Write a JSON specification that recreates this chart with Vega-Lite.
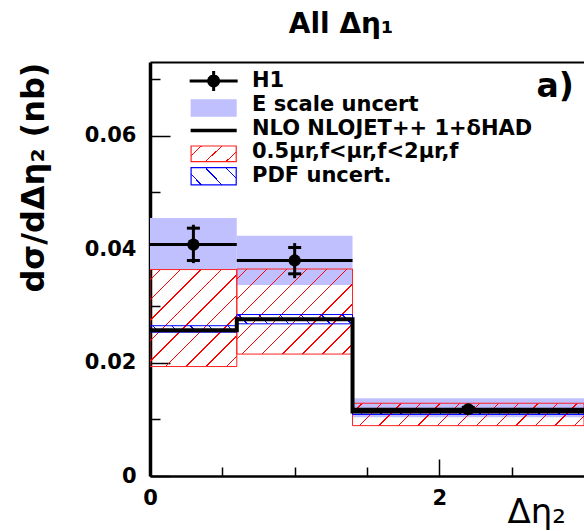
{
  "$schema": "https://vega.github.io/schema/vega-lite/v6.json",
  "autosize": {"type": "none"},
  "padding": {"left": 150, "top": 62, "right": 0, "bottom": 55},
  "width": 434,
  "height": 414,
  "background": "white",
  "title": {
    "text": "All Δη₁",
    "font": "DejaVu Sans",
    "fontSize": 28,
    "fontWeight": "bold",
    "color": "black",
    "anchor": "middle",
    "dx": -26,
    "dy": 28,
    "baseline": "alphabetic",
    "offset": 29
  },
  "config": {
    "view": {"stroke": null},
    "font": "DejaVu Sans",
    "axis": {
      "grid": false,
      "domainColor": "black",
      "tickColor": "black",
      "tickWidth": 1.5,
      "labelFont": "DejaVu Sans",
      "labelFontWeight": "bold",
      "labelFontSize": 21,
      "labelColor": "black",
      "labelFlush": false,
      "labelOverlap": false,
      "labelBound": false,
      "titleColor": "black",
      "titleFont": "DejaVu Sans"
    }
  },
  "datasets": {
    "bins": [
      {"bin": 1, "xlo": 0.0, "xhi": 0.6, "xc": 0.3, "h1": 0.0408, "stat_lo": 0.0380, "stat_hi": 0.0437, "tot_lo": 0.03754, "tot_hi": 0.0443, "escale_lo": 0.0364, "escale_hi": 0.0455, "scale_lo": 0.0193, "scale_hi": 0.0364, "pdf_lo": 0.02536, "pdf_hi": 0.0265, "nlo": 0.02568},
      {"bin": 2, "xlo": 0.6, "xhi": 1.4, "xc": 1.0, "h1": 0.0380, "stat_lo": 0.03565, "stat_hi": 0.04029, "tot_lo": 0.03489, "tot_hi": 0.04106, "escale_lo": 0.0337, "escale_hi": 0.04235, "scale_lo": 0.0215, "scale_hi": 0.0365, "pdf_lo": 0.02683, "pdf_hi": 0.02847, "nlo": 0.02765},
      {"bin": 3, "xlo": 1.4, "xhi": 3.0, "xc": 2.2, "h1": 0.01177, "stat_lo": 0.0115, "stat_hi": 0.0121, "tot_lo": 0.0113, "tot_hi": 0.0122, "escale_lo": 0.01036, "escale_hi": 0.01372, "scale_lo": 0.00888, "scale_hi": 0.01283, "pdf_lo": 0.01085, "pdf_hi": 0.0118, "nlo": 0.01139}
    ],
    "legend": [
      {"label": "H1"},
      {"label": "E scale uncert"},
      {"label": "NLO NLOJET++ 1+δHAD"},
      {"label": "0.5μr,f<μr,f<2μr,f"},
      {"label": "PDF uncert."}
    ]
  },
  "resolve": {"scale": {"y": "independent"}, "axis": {"x": "independent", "y": "independent"}},
  "layer": [
    {
      "data": {"name": "bins"},
      "resolve": {"axis": {"x": "independent"}},
      "layer": [
        {
          "mark": {"type": "rect", "clip": true, "strokeWidth": 0, "color": "#c0c0ff"},
          "encoding": {
            "x": {
              "field": "xlo", "type": "quantitative",
              "scale": {"domain": [0, 3], "nice": false, "zero": false},
              "axis": {
                "orient": "bottom",
                "values": [0, 0.5, 1, 1.5, 2, 2.5],
                "tickSize": {"expr": "datum.value % 2 === 0 ? -17 : -9"},
                "labelExpr": "datum.value % 2 === 0 ? format(datum.value, 'd') : ''",
                "labelPadding": 28,
                "domainWidth": 2.5,
                "title": "Δη₂",
                "titleFontSize": 34,
                "titleFontWeight": "normal",
                "titleX": 357,
                "titleY": 46,
                "titleAlign": "left",
                "titleBaseline": "alphabetic",
                "titleAngle": 0
              }
            },
            "x2": {"field": "xhi"},
            "y": {
              "field": "escale_lo", "type": "quantitative",
              "scale": {"domain": [0, 0.073], "nice": false, "zero": true},
              "axis": {
                "orient": "left",
                "values": [0, 0.005, 0.01, 0.015, 0.02, 0.025, 0.03, 0.035, 0.04, 0.045, 0.05, 0.055, 0.06, 0.065, 0.07],
                "tickSize": {"expr": "abs(datum.value * 50 - round(datum.value * 50)) < 0.001 ? -20 : -10"},
                "labelExpr": "abs(datum.value * 50 - round(datum.value * 50)) < 0.001 ? (datum.value == 0 ? '0' : format(datum.value, '.2f')) : ''",
                "labelPadding": 34,
                "domainWidth": 3.5,
                "title": "dσ/dΔη₂ (nb)",
                "titleFontSize": 32,
                "titleFontWeight": "bold",
                "titleAngle": -90,
                "titleX": -117,
                "titleY": 0,
                "titleAlign": "right",
                "titleBaseline": "middle"
              }
            },
            "y2": {"field": "escale_hi"}
          }
        },
        {
          "transform": [{"filter": "datum.bin === 1"}],
          "mark": {"type": "rect", "clip": true, "stroke": "#ff2020", "strokeWidth": 1,
            "fill": {"gradient": "linear", "x1": 0, "y1": 0, "x2": 0.9416, "y2": 1.0523, "stops": [
              {"offset": 0, "color": "rgba(255,0,0,0)"},
              {"offset": 0.0516, "color": "rgba(255,0,0,0)"}, {"offset": 0.0516, "color": "#ff0000"}, {"offset": 0.0596, "color": "#ff0000"}, {"offset": 0.0596, "color": "rgba(255,0,0,0)"},
              {"offset": 0.1627, "color": "rgba(255,0,0,0)"}, {"offset": 0.1627, "color": "#ff0000"}, {"offset": 0.1707, "color": "#ff0000"}, {"offset": 0.1707, "color": "rgba(255,0,0,0)"},
              {"offset": 0.2738, "color": "rgba(255,0,0,0)"}, {"offset": 0.2738, "color": "#ff0000"}, {"offset": 0.2818, "color": "#ff0000"}, {"offset": 0.2818, "color": "rgba(255,0,0,0)"},
              {"offset": 0.3849, "color": "rgba(255,0,0,0)"}, {"offset": 0.3849, "color": "#ff0000"}, {"offset": 0.3929, "color": "#ff0000"}, {"offset": 0.3929, "color": "rgba(255,0,0,0)"},
              {"offset": 0.496, "color": "rgba(255,0,0,0)"}, {"offset": 0.496, "color": "#ff0000"}, {"offset": 0.504, "color": "#ff0000"}, {"offset": 0.504, "color": "rgba(255,0,0,0)"},
              {"offset": 0.6071, "color": "rgba(255,0,0,0)"}, {"offset": 0.6071, "color": "#ff0000"}, {"offset": 0.6151, "color": "#ff0000"}, {"offset": 0.6151, "color": "rgba(255,0,0,0)"},
              {"offset": 0.7182, "color": "rgba(255,0,0,0)"}, {"offset": 0.7182, "color": "#ff0000"}, {"offset": 0.7262, "color": "#ff0000"}, {"offset": 0.7262, "color": "rgba(255,0,0,0)"},
              {"offset": 0.8293, "color": "rgba(255,0,0,0)"}, {"offset": 0.8293, "color": "#ff0000"}, {"offset": 0.8373, "color": "#ff0000"}, {"offset": 0.8373, "color": "rgba(255,0,0,0)"},
              {"offset": 0.9404, "color": "rgba(255,0,0,0)"}, {"offset": 0.9404, "color": "#ff0000"}, {"offset": 0.9484, "color": "#ff0000"}, {"offset": 0.9484, "color": "rgba(255,0,0,0)"},
              {"offset": 1, "color": "rgba(255,0,0,0)"}
            ]}},
          "encoding": {
            "x": {"field": "xlo", "type": "quantitative", "axis": null},
            "x2": {"field": "xhi"},
            "y": {"field": "scale_lo", "type": "quantitative"},
            "y2": {"field": "scale_hi"}
          }
        },
        {
          "transform": [{"filter": "datum.bin === 2"}],
          "mark": {"type": "rect", "clip": true, "stroke": "#ff2020", "strokeWidth": 1,
            "fill": {"gradient": "linear", "x1": 0, "y1": 0, "x2": 1.1263, "y2": 0.8284, "stops": [
              {"offset": 0, "color": "rgba(255,0,0,0)"},
              {"offset": 0.0465, "color": "rgba(255,0,0,0)"}, {"offset": 0.0465, "color": "#ff0000"}, {"offset": 0.0535, "color": "#ff0000"}, {"offset": 0.0535, "color": "rgba(255,0,0,0)"},
              {"offset": 0.1465, "color": "rgba(255,0,0,0)"}, {"offset": 0.1465, "color": "#ff0000"}, {"offset": 0.1535, "color": "#ff0000"}, {"offset": 0.1535, "color": "rgba(255,0,0,0)"},
              {"offset": 0.2465, "color": "rgba(255,0,0,0)"}, {"offset": 0.2465, "color": "#ff0000"}, {"offset": 0.2535, "color": "#ff0000"}, {"offset": 0.2535, "color": "rgba(255,0,0,0)"},
              {"offset": 0.3465, "color": "rgba(255,0,0,0)"}, {"offset": 0.3465, "color": "#ff0000"}, {"offset": 0.3535, "color": "#ff0000"}, {"offset": 0.3535, "color": "rgba(255,0,0,0)"},
              {"offset": 0.4465, "color": "rgba(255,0,0,0)"}, {"offset": 0.4465, "color": "#ff0000"}, {"offset": 0.4535, "color": "#ff0000"}, {"offset": 0.4535, "color": "rgba(255,0,0,0)"},
              {"offset": 0.5465, "color": "rgba(255,0,0,0)"}, {"offset": 0.5465, "color": "#ff0000"}, {"offset": 0.5535, "color": "#ff0000"}, {"offset": 0.5535, "color": "rgba(255,0,0,0)"},
              {"offset": 0.6465, "color": "rgba(255,0,0,0)"}, {"offset": 0.6465, "color": "#ff0000"}, {"offset": 0.6535, "color": "#ff0000"}, {"offset": 0.6535, "color": "rgba(255,0,0,0)"},
              {"offset": 0.7465, "color": "rgba(255,0,0,0)"}, {"offset": 0.7465, "color": "#ff0000"}, {"offset": 0.7535, "color": "#ff0000"}, {"offset": 0.7535, "color": "rgba(255,0,0,0)"},
              {"offset": 0.8465, "color": "rgba(255,0,0,0)"}, {"offset": 0.8465, "color": "#ff0000"}, {"offset": 0.8535, "color": "#ff0000"}, {"offset": 0.8535, "color": "rgba(255,0,0,0)"},
              {"offset": 0.9465, "color": "rgba(255,0,0,0)"}, {"offset": 0.9465, "color": "#ff0000"}, {"offset": 0.9535, "color": "#ff0000"}, {"offset": 0.9535, "color": "rgba(255,0,0,0)"},
              {"offset": 1, "color": "rgba(255,0,0,0)"}
            ]}},
          "encoding": {
            "x": {"field": "xlo", "type": "quantitative", "axis": null},
            "x2": {"field": "xhi"},
            "y": {"field": "scale_lo", "type": "quantitative"},
            "y2": {"field": "scale_hi"}
          }
        },
        {
          "transform": [{"filter": "datum.bin === 3"}],
          "mark": {"type": "rect", "clip": true, "stroke": "#ff2020", "strokeWidth": 1,
            "fill": {"gradient": "linear", "x1": 0, "y1": 0, "x2": 1.0867, "y2": 0.1051, "stops": [
              {"offset": 0, "color": "rgba(255,0,0,0)"},
              {"offset": 0.0357, "color": "rgba(255,0,0,0)"}, {"offset": 0.0357, "color": "#ff0000"}, {"offset": 0.0413, "color": "#ff0000"}, {"offset": 0.0413, "color": "rgba(255,0,0,0)"},
              {"offset": 0.1126, "color": "rgba(255,0,0,0)"}, {"offset": 0.1126, "color": "#ff0000"}, {"offset": 0.1182, "color": "#ff0000"}, {"offset": 0.1182, "color": "rgba(255,0,0,0)"},
              {"offset": 0.1895, "color": "rgba(255,0,0,0)"}, {"offset": 0.1895, "color": "#ff0000"}, {"offset": 0.1951, "color": "#ff0000"}, {"offset": 0.1951, "color": "rgba(255,0,0,0)"},
              {"offset": 0.2664, "color": "rgba(255,0,0,0)"}, {"offset": 0.2664, "color": "#ff0000"}, {"offset": 0.272, "color": "#ff0000"}, {"offset": 0.272, "color": "rgba(255,0,0,0)"},
              {"offset": 0.3434, "color": "rgba(255,0,0,0)"}, {"offset": 0.3434, "color": "#ff0000"}, {"offset": 0.349, "color": "#ff0000"}, {"offset": 0.349, "color": "rgba(255,0,0,0)"},
              {"offset": 0.4203, "color": "rgba(255,0,0,0)"}, {"offset": 0.4203, "color": "#ff0000"}, {"offset": 0.4259, "color": "#ff0000"}, {"offset": 0.4259, "color": "rgba(255,0,0,0)"},
              {"offset": 0.4972, "color": "rgba(255,0,0,0)"}, {"offset": 0.4972, "color": "#ff0000"}, {"offset": 0.5028, "color": "#ff0000"}, {"offset": 0.5028, "color": "rgba(255,0,0,0)"},
              {"offset": 0.5741, "color": "rgba(255,0,0,0)"}, {"offset": 0.5741, "color": "#ff0000"}, {"offset": 0.5797, "color": "#ff0000"}, {"offset": 0.5797, "color": "rgba(255,0,0,0)"},
              {"offset": 0.651, "color": "rgba(255,0,0,0)"}, {"offset": 0.651, "color": "#ff0000"}, {"offset": 0.6566, "color": "#ff0000"}, {"offset": 0.6566, "color": "rgba(255,0,0,0)"},
              {"offset": 0.728, "color": "rgba(255,0,0,0)"}, {"offset": 0.728, "color": "#ff0000"}, {"offset": 0.7336, "color": "#ff0000"}, {"offset": 0.7336, "color": "rgba(255,0,0,0)"},
              {"offset": 0.8049, "color": "rgba(255,0,0,0)"}, {"offset": 0.8049, "color": "#ff0000"}, {"offset": 0.8105, "color": "#ff0000"}, {"offset": 0.8105, "color": "rgba(255,0,0,0)"},
              {"offset": 0.8818, "color": "rgba(255,0,0,0)"}, {"offset": 0.8818, "color": "#ff0000"}, {"offset": 0.8874, "color": "#ff0000"}, {"offset": 0.8874, "color": "rgba(255,0,0,0)"},
              {"offset": 0.9587, "color": "rgba(255,0,0,0)"}, {"offset": 0.9587, "color": "#ff0000"}, {"offset": 0.9643, "color": "#ff0000"}, {"offset": 0.9643, "color": "rgba(255,0,0,0)"},
              {"offset": 1, "color": "rgba(255,0,0,0)"}
            ]}},
          "encoding": {
            "x": {"field": "xlo", "type": "quantitative", "axis": null},
            "x2": {"field": "xhi"},
            "y": {"field": "scale_lo", "type": "quantitative"},
            "y2": {"field": "scale_hi"}
          }
        },
        {
          "transform": [{"filter": "datum.bin === 1"}],
          "mark": {"type": "rect", "clip": true, "stroke": "#0000ff", "strokeWidth": 1,
            "fill": {"gradient": "linear", "x1": 0, "y1": 1, "x2": 1.069, "y2": 0.92, "stops": [
              {"offset": 0, "color": "rgba(0,0,255,0)"},
              {"offset": 0.0925, "color": "rgba(0,0,255,0)"}, {"offset": 0.0925, "color": "#0000ff"}, {"offset": 0.1075, "color": "#0000ff"}, {"offset": 0.1075, "color": "rgba(0,0,255,0)"},
              {"offset": 0.2925, "color": "rgba(0,0,255,0)"}, {"offset": 0.2925, "color": "#0000ff"}, {"offset": 0.3075, "color": "#0000ff"}, {"offset": 0.3075, "color": "rgba(0,0,255,0)"},
              {"offset": 0.4925, "color": "rgba(0,0,255,0)"}, {"offset": 0.4925, "color": "#0000ff"}, {"offset": 0.5075, "color": "#0000ff"}, {"offset": 0.5075, "color": "rgba(0,0,255,0)"},
              {"offset": 0.6925, "color": "rgba(0,0,255,0)"}, {"offset": 0.6925, "color": "#0000ff"}, {"offset": 0.7075, "color": "#0000ff"}, {"offset": 0.7075, "color": "rgba(0,0,255,0)"},
              {"offset": 0.8925, "color": "rgba(0,0,255,0)"}, {"offset": 0.8925, "color": "#0000ff"}, {"offset": 0.9075, "color": "#0000ff"}, {"offset": 0.9075, "color": "rgba(0,0,255,0)"},
              {"offset": 1, "color": "rgba(0,0,255,0)"}
            ]}},
          "encoding": {
            "x": {"field": "xlo", "type": "quantitative", "axis": null},
            "x2": {"field": "xhi"},
            "y": {"field": "pdf_lo", "type": "quantitative"},
            "y2": {"field": "pdf_hi"}
          }
        },
        {
          "transform": [{"filter": "datum.bin === 2"}],
          "mark": {"type": "rect", "clip": true, "stroke": "#0000ff", "strokeWidth": 1,
            "fill": {"gradient": "linear", "x1": 0, "y1": 1, "x2": 1.0735, "y2": 0.9137, "stops": [
              {"offset": 0, "color": "rgba(0,0,255,0)"},
              {"offset": 0.0773, "color": "rgba(0,0,255,0)"}, {"offset": 0.0773, "color": "#0000ff"}, {"offset": 0.0893, "color": "#0000ff"}, {"offset": 0.0893, "color": "rgba(0,0,255,0)"},
              {"offset": 0.244, "color": "rgba(0,0,255,0)"}, {"offset": 0.244, "color": "#0000ff"}, {"offset": 0.256, "color": "#0000ff"}, {"offset": 0.256, "color": "rgba(0,0,255,0)"},
              {"offset": 0.4107, "color": "rgba(0,0,255,0)"}, {"offset": 0.4107, "color": "#0000ff"}, {"offset": 0.4227, "color": "#0000ff"}, {"offset": 0.4227, "color": "rgba(0,0,255,0)"},
              {"offset": 0.5773, "color": "rgba(0,0,255,0)"}, {"offset": 0.5773, "color": "#0000ff"}, {"offset": 0.5893, "color": "#0000ff"}, {"offset": 0.5893, "color": "rgba(0,0,255,0)"},
              {"offset": 0.744, "color": "rgba(0,0,255,0)"}, {"offset": 0.744, "color": "#0000ff"}, {"offset": 0.756, "color": "#0000ff"}, {"offset": 0.756, "color": "rgba(0,0,255,0)"},
              {"offset": 0.9107, "color": "rgba(0,0,255,0)"}, {"offset": 0.9107, "color": "#0000ff"}, {"offset": 0.9227, "color": "#0000ff"}, {"offset": 0.9227, "color": "rgba(0,0,255,0)"},
              {"offset": 1, "color": "rgba(0,0,255,0)"}
            ]}},
          "encoding": {
            "x": {"field": "xlo", "type": "quantitative", "axis": null},
            "x2": {"field": "xhi"},
            "y": {"field": "pdf_lo", "type": "quantitative"},
            "y2": {"field": "pdf_hi"}
          }
        },
        {
          "transform": [{"filter": "datum.bin === 3"}],
          "mark": {"type": "rect", "clip": true, "stroke": "#0000ff", "strokeWidth": 1,
            "fill": {"gradient": "linear", "x1": 0, "y1": 1, "x2": 1.0228, "y2": 0.9761, "stops": [
              {"offset": 0, "color": "rgba(0,0,255,0)"},
              {"offset": 0.0387, "color": "rgba(0,0,255,0)"}, {"offset": 0.0387, "color": "#0000ff"}, {"offset": 0.0447, "color": "#0000ff"}, {"offset": 0.0447, "color": "rgba(0,0,255,0)"},
              {"offset": 0.122, "color": "rgba(0,0,255,0)"}, {"offset": 0.122, "color": "#0000ff"}, {"offset": 0.128, "color": "#0000ff"}, {"offset": 0.128, "color": "rgba(0,0,255,0)"},
              {"offset": 0.2053, "color": "rgba(0,0,255,0)"}, {"offset": 0.2053, "color": "#0000ff"}, {"offset": 0.2113, "color": "#0000ff"}, {"offset": 0.2113, "color": "rgba(0,0,255,0)"},
              {"offset": 0.2887, "color": "rgba(0,0,255,0)"}, {"offset": 0.2887, "color": "#0000ff"}, {"offset": 0.2947, "color": "#0000ff"}, {"offset": 0.2947, "color": "rgba(0,0,255,0)"},
              {"offset": 0.372, "color": "rgba(0,0,255,0)"}, {"offset": 0.372, "color": "#0000ff"}, {"offset": 0.378, "color": "#0000ff"}, {"offset": 0.378, "color": "rgba(0,0,255,0)"},
              {"offset": 0.4553, "color": "rgba(0,0,255,0)"}, {"offset": 0.4553, "color": "#0000ff"}, {"offset": 0.4613, "color": "#0000ff"}, {"offset": 0.4613, "color": "rgba(0,0,255,0)"},
              {"offset": 0.5387, "color": "rgba(0,0,255,0)"}, {"offset": 0.5387, "color": "#0000ff"}, {"offset": 0.5447, "color": "#0000ff"}, {"offset": 0.5447, "color": "rgba(0,0,255,0)"},
              {"offset": 0.622, "color": "rgba(0,0,255,0)"}, {"offset": 0.622, "color": "#0000ff"}, {"offset": 0.628, "color": "#0000ff"}, {"offset": 0.628, "color": "rgba(0,0,255,0)"},
              {"offset": 0.7053, "color": "rgba(0,0,255,0)"}, {"offset": 0.7053, "color": "#0000ff"}, {"offset": 0.7113, "color": "#0000ff"}, {"offset": 0.7113, "color": "rgba(0,0,255,0)"},
              {"offset": 0.7887, "color": "rgba(0,0,255,0)"}, {"offset": 0.7887, "color": "#0000ff"}, {"offset": 0.7947, "color": "#0000ff"}, {"offset": 0.7947, "color": "rgba(0,0,255,0)"},
              {"offset": 0.872, "color": "rgba(0,0,255,0)"}, {"offset": 0.872, "color": "#0000ff"}, {"offset": 0.878, "color": "#0000ff"}, {"offset": 0.878, "color": "rgba(0,0,255,0)"},
              {"offset": 0.9553, "color": "rgba(0,0,255,0)"}, {"offset": 0.9553, "color": "#0000ff"}, {"offset": 0.9613, "color": "#0000ff"}, {"offset": 0.9613, "color": "rgba(0,0,255,0)"},
              {"offset": 1, "color": "rgba(0,0,255,0)"}
            ]}},
          "encoding": {
            "x": {"field": "xlo", "type": "quantitative", "axis": null},
            "x2": {"field": "xhi"},
            "y": {"field": "pdf_lo", "type": "quantitative"},
            "y2": {"field": "pdf_hi"}
          }
        },
        {
          "transform": [
            {"fold": ["xlo", "xhi"], "as": ["edge", "xe"]},
            {"window": [{"op": "row_number", "as": "seq"}]}
          ],
          "mark": {"type": "line", "clip": true, "color": "black", "strokeWidth": 4, "strokeJoin": "miter", "strokeCap": "butt"},
          "encoding": {
            "x": {"field": "xe", "type": "quantitative", "axis": null},
            "y": {"field": "nlo", "type": "quantitative"},
            "order": {"field": "seq", "type": "quantitative"}
          }
        },
        {
          "mark": {"type": "rule", "clip": true, "color": "black", "strokeWidth": 3},
          "encoding": {
            "x": {"field": "xlo", "type": "quantitative", "axis": {"orient": "top", "ticks": false, "labels": false, "title": null, "domainWidth": 2}},
            "x2": {"field": "xhi"},
            "y": {"field": "h1", "type": "quantitative"}
          }
        },
        {
          "mark": {"type": "rule", "color": "black", "strokeWidth": 3},
          "encoding": {
            "x": {"field": "xc", "type": "quantitative", "axis": null},
            "y": {"field": "tot_lo", "type": "quantitative"},
            "y2": {"field": "tot_hi"}
          }
        },
        {
          "mark": {"type": "tick", "orient": "horizontal", "color": "black", "size": 13, "thickness": 3, "opacity": 1},
          "encoding": {
            "x": {"field": "xc", "type": "quantitative", "axis": null},
            "y": {"field": "stat_lo", "type": "quantitative"}
          }
        },
        {
          "mark": {"type": "tick", "orient": "horizontal", "color": "black", "size": 13, "thickness": 3, "opacity": 1},
          "encoding": {
            "x": {"field": "xc", "type": "quantitative", "axis": null},
            "y": {"field": "stat_hi", "type": "quantitative"}
          }
        },
        {
          "mark": {"type": "circle", "color": "black", "opacity": 1, "size": 150},
          "encoding": {
            "x": {"field": "xc", "type": "quantitative", "axis": null},
            "y": {"field": "h1", "type": "quantitative"}
          }
        },
        {
          "data": {"values": [{}]},
          "mark": {"type": "text", "text": "a)", "font": "DejaVu Sans", "fontWeight": "bold", "fontSize": 33, "color": "black", "align": "center", "baseline": "alphabetic"},
          "encoding": {
            "x": {"datum": 2.8, "type": "quantitative", "axis": null},
            "y": {"datum": 0.0668, "type": "quantitative"}
          }
        }
      ]
    },
    {
      "data": {"name": "legend"},
      "encoding": {
        "y": {
          "field": "label", "type": "nominal", "sort": null,
          "scale": {
            "type": "point",
            "domain": ["H1", "E scale uncert", "NLO NLOJET++ 1+δHAD", "0.5μr,f<μr,f<2μr,f", "PDF uncert."],
            "range": [19, 114],
            "padding": 0
          },
          "axis": null
        }
      },
      "layer": [
        {
          "mark": {"type": "text", "align": "left", "baseline": "middle", "font": "DejaVu Sans", "fontWeight": "bold", "fontSize": 21, "color": "black"},
          "encoding": {
            "x": {"datum": 0.705, "type": "quantitative", "axis": null},
            "text": {"field": "label"}
          }
        },
        {
          "transform": [{"filter": "datum.label === 'H1'"}],
          "mark": {"type": "point", "filled": true, "opacity": 1, "size": 2304, "fill": "#000000", "strokeWidth": 0,
            "shape": "M-1,-0.0625H1V0.0625H-1ZM-0.0625,-0.42H0.0625V0.42H-0.0625ZM-0.27,0A0.27,0.27,0,1,1,0.27,0A0.27,0.27,0,1,1,-0.27,0Z"},
          "encoding": {"x": {"datum": 0.44, "type": "quantitative", "axis": null}}
        },
        {
          "transform": [{"filter": "datum.label === 'E scale uncert'"}],
          "mark": {"type": "point", "filled": true, "opacity": 1, "size": 2304, "fill": "#c0c0ff", "strokeWidth": 0,
            "shape": "M-0.96,-0.23H0.96V0.5H-0.96Z"},
          "encoding": {"x": {"datum": 0.44, "type": "quantitative", "axis": null}}
        },
        {
          "transform": [{"filter": "datum.label === 'NLO NLOJET++ 1+δHAD'"}],
          "mark": {"type": "point", "filled": true, "opacity": 1, "size": 2304, "fill": "#000000", "strokeWidth": 0,
            "shape": "M-0.96,0.01H0.96V0.156H-0.96Z"},
          "encoding": {"x": {"datum": 0.44, "type": "quantitative", "axis": null}}
        },
        {
          "transform": [{"filter": "datum.label === '0.5μr,f<μr,f<2μr,f'"}],
          "mark": {"type": "point", "filled": true, "opacity": 1, "size": 2304, "stroke": "#ff2020", "strokeWidth": 1.2,
            "shape": "M-0.94,-0.26H0.94V0.39H-0.94Z",
            "fill": {"gradient": "linear", "x1": 0, "y1": 0, "x2": 1.205, "y2": 0.445, "stops": [
              {"offset": 0, "color": "rgba(255,0,0,0)"},
              {"offset": 0.1557, "color": "rgba(255,0,0,0)"}, {"offset": 0.1557, "color": "#ff0000"}, {"offset": 0.1777, "color": "#ff0000"}, {"offset": 0.1777, "color": "rgba(255,0,0,0)"},
              {"offset": 0.489, "color": "rgba(255,0,0,0)"}, {"offset": 0.489, "color": "#ff0000"}, {"offset": 0.511, "color": "#ff0000"}, {"offset": 0.511, "color": "rgba(255,0,0,0)"},
              {"offset": 0.8223, "color": "rgba(255,0,0,0)"}, {"offset": 0.8223, "color": "#ff0000"}, {"offset": 0.8443, "color": "#ff0000"}, {"offset": 0.8443, "color": "rgba(255,0,0,0)"},
              {"offset": 1, "color": "rgba(255,0,0,0)"}
            ]}},
          "encoding": {"x": {"datum": 0.44, "type": "quantitative", "axis": null}}
        },
        {
          "transform": [{"filter": "datum.label === 'PDF uncert.'"}],
          "mark": {"type": "point", "filled": true, "opacity": 1, "size": 2304, "stroke": "#0000ff", "strokeWidth": 1.2,
            "shape": "M-0.94,-0.35H0.94V0.37H-0.94Z",
            "fill": {"gradient": "linear", "x1": 0, "y1": 1, "x2": 1.205, "y2": 0.555, "stops": [
              {"offset": 0, "color": "rgba(0,0,255,0)"},
              {"offset": 0.1557, "color": "rgba(0,0,255,0)"}, {"offset": 0.1557, "color": "#0000ff"}, {"offset": 0.1777, "color": "#0000ff"}, {"offset": 0.1777, "color": "rgba(0,0,255,0)"},
              {"offset": 0.489, "color": "rgba(0,0,255,0)"}, {"offset": 0.489, "color": "#0000ff"}, {"offset": 0.511, "color": "#0000ff"}, {"offset": 0.511, "color": "rgba(0,0,255,0)"},
              {"offset": 0.8223, "color": "rgba(0,0,255,0)"}, {"offset": 0.8223, "color": "#0000ff"}, {"offset": 0.8443, "color": "#0000ff"}, {"offset": 0.8443, "color": "rgba(0,0,255,0)"},
              {"offset": 1, "color": "rgba(0,0,255,0)"}
            ]}},
          "encoding": {"x": {"datum": 0.44, "type": "quantitative", "axis": null}}
        }
      ]
    }
  ]
}
